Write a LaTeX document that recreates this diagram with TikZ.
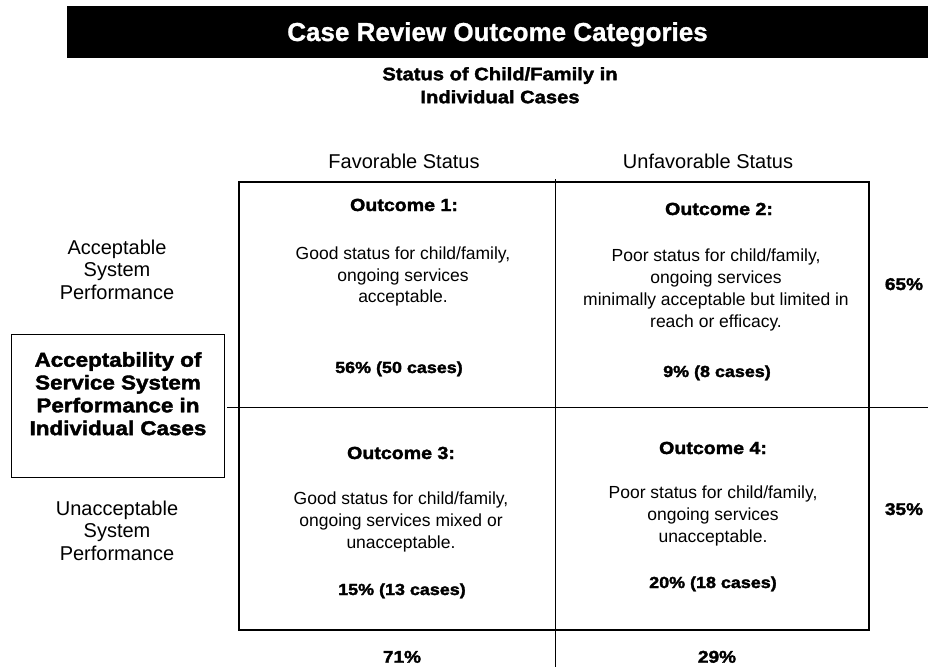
\documentclass[tikz,border=0pt]{standalone}
\usepackage{fontspec}
\setmainfont{Liberation Sans}
\newfontfamily\heavyfont{Liberation Sans}[UprightFont={* Bold},FakeStretch=1.12,FakeBold=2]
\newfontfamily\titlefont{Liberation Sans}[UprightFont={* Bold},FakeBold=1]
\begin{document}
\begin{tikzpicture}[x=1pt,y=-1pt,
  txt/.style={inner sep=0pt, align=center},
  bodytext/.style={txt, font=\fontsize{17.5}{21.8}\selectfont},
  labeltext/.style={txt, font=\fontsize{20}{22.2}\selectfont},
  headtext/.style={txt, font=\heavyfont\fontsize{17.5}{21}\selectfont},
  pcttext/.style={txt, font=\heavyfont\fontsize{16}{18}\selectfont},
  sidepct/.style={txt, font=\heavyfont\fontsize{17}{20}\selectfont},
  thinline/.style={line width=1pt},
  thickline/.style={line width=2.6pt}]
\useasboundingbox (0,0) rectangle (928,669);
% title bar
\fill[black] (67,6) rectangle (928,58);
\node[txt, anchor=base, text=white, font=\titlefont\fontsize{26}{30}\selectfont] (title) at (497.5,41) {Case Review Outcome Categories};
\node[txt, anchor=north, font=\heavyfont\fontsize{18}{23}\selectfont] (sub) at (500,67) {Status of Child/Family in\\Individual Cases};
% column headers
\node[labeltext, anchor=base] (fav) at (404,168) {Favorable Status};
\node[labeltext, anchor=base] (unfav) at (708,168) {Unfavorable Status};
% row labels
\node[labeltext, anchor=north] (acc) at (117,240) {Acceptable\\System\\Performance};
\node[labeltext, anchor=north] (unacc) at (117,501) {Unacceptable\\System\\Performance};
% left box
\node[draw, line width=1pt, minimum width=213pt, minimum height=143pt, inner sep=0pt] (axisbox) at (117.5,405.5) {};
\node[txt, anchor=north, font=\heavyfont\fontsize{20}{22.8}\selectfont] (axis) at (118,352) {Acceptability of\\Service System\\Performance in\\Individual Cases};
% grid
\coordinate (vtop) at (555,179);
\coordinate (vbot) at (555,667);
\coordinate (hleft) at (227,407);
\coordinate (hright) at (928,407);
\draw[thinline] (vtop) -- (vbot);
\draw[thinline] (hleft) -- (hright);
\draw[thickline] (239,182) rectangle (869,630);
% outcome 1
\node[headtext, anchor=base] (o1h) at (404,211) {Outcome 1:};
\node[bodytext, anchor=north] (o1b) at (403,246.5) {Good status for child/family,\\ongoing services\\acceptable.};
\node[pcttext, anchor=base] (o1p) at (399,373) {56\% (50 cases)};
% outcome 2
\node[headtext, anchor=base] (o2h) at (719,215) {Outcome 2:};
\node[bodytext, anchor=north] (o2b) at (716,249) {Poor status for child/family,\\ongoing services\\minimally acceptable but limited in\\reach or efficacy.};
\node[pcttext, anchor=base] (o2p) at (717,377) {9\% (8 cases)};
% outcome 3
\node[headtext, anchor=base] (o3h) at (401,459) {Outcome 3:};
\node[bodytext, anchor=north] (o3b) at (401,492) {Good status for child/family,\\ongoing services mixed or\\unacceptable.};
\node[pcttext, anchor=base] (o3p) at (402,595) {15\% (13 cases)};
% outcome 4
\node[headtext, anchor=base] (o4h) at (713,454) {Outcome 4:};
\node[bodytext, anchor=north] (o4b) at (713,486) {Poor status for child/family,\\ongoing services\\unacceptable.};
\node[pcttext, anchor=base] (o4p) at (713,588) {20\% (18 cases)};
% margins
\node[sidepct, anchor=base] (p65) at (904,290) {65\%};
\node[sidepct, anchor=base] (p35) at (904,515) {35\%};
\node[sidepct, anchor=base] (p71) at (402,662.7) {71\%};
\node[sidepct, anchor=base] (p29) at (717,662.7) {29\%};
\end{tikzpicture}
\end{document}
